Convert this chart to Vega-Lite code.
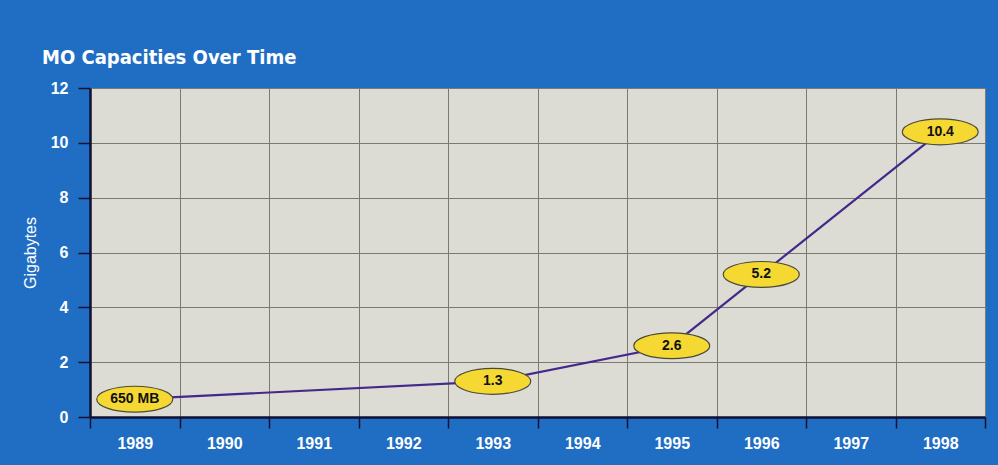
{
  "$schema": "https://vega.github.io/schema/vega-lite/v6.json",
  "width": 895,
  "height": 329,
  "autosize": {"type": "none"},
  "padding": {"left": 90, "top": 88, "right": 13, "bottom": 48},
  "background": "#1f6ec4",
  "title": {
    "text": "MO Capacities Over Time",
    "anchor": "start",
    "frame": "group",
    "dx": -48,
    "offset": -4,
    "baseline": "alphabetic",
    "font": "DejaVu Sans Condensed, Liberation Sans",
    "fontSize": 20,
    "fontWeight": "bold",
    "color": "#ffffff"
  },
  "config": {
    "view": {"fill": "#dcdcd5", "stroke": null},
    "axis": {
      "labelFont": "Liberation Sans",
      "titleFont": "Liberation Sans",
      "labelColor": "#ffffff",
      "titleColor": "#ffffff",
      "gridColor": "#7a7a72",
      "gridOpacity": 1,
      "gridWidth": 1,
      "domainColor": "#111133",
      "domainWidth": 2.5,
      "tickColor": "#111133",
      "tickWidth": 1.5
    }
  },
  "data": {
    "values": [
      {"year": "1989", "gb": 0.65, "label": "650 MB"},
      {"year": "1993", "gb": 1.3, "label": "1.3"},
      {"year": "1995", "gb": 2.6, "label": "2.6"},
      {"year": "1996", "gb": 5.2, "label": "5.2"},
      {"year": "1998", "gb": 10.4, "label": "10.4"}
    ]
  },
  "encoding": {
    "x": {
      "field": "year",
      "type": "ordinal",
      "scale": {
        "type": "band",
        "domain": ["1989", "1990", "1991", "1992", "1993", "1994", "1995", "1996", "1997", "1998"],
        "paddingInner": 0,
        "paddingOuter": 0
      },
      "axis": {
        "title": null,
        "labelAngle": 0,
        "tickBand": "extent",
        "grid": true,
        "tickSize": 11,
        "labelPadding": 7,
        "labelFontSize": 16,
        "labelFontWeight": "bold"
      }
    },
    "y": {
      "field": "gb",
      "type": "quantitative",
      "scale": {"domain": [0, 12], "nice": false},
      "axis": {
        "title": "Gigabytes",
        "titleFontSize": 16,
        "titleFontWeight": "normal",
        "titlePadding": 12,
        "values": [0, 2, 4, 6, 8, 10, 12],
        "tickSize": 12,
        "labelPadding": 10,
        "labelFontSize": 16,
        "labelFontWeight": "bold",
        "grid": true
      }
    }
  },
  "layer": [
    {
      "mark": {"type": "line", "color": "#44288a", "strokeWidth": 2.2},
      "encoding": {}
    },
    {
      "mark": {
        "type": "point",
        "shape": "M-1,0A1,0.34 0 1,1 1,0A1,0.34 0 1,1 -1,0Z",
        "size": 5776,
        "filled": true,
        "fill": "#f5d832",
        "stroke": "#4a4a3a",
        "strokeWidth": 1.2,
        "opacity": 1
      },
      "encoding": {}
    },
    {
      "mark": {
        "type": "text",
        "font": "Liberation Sans",
        "fontSize": 14,
        "fontWeight": "bold",
        "color": "#111111"
      },
      "encoding": {"text": {"field": "label"}}
    }
  ]
}
